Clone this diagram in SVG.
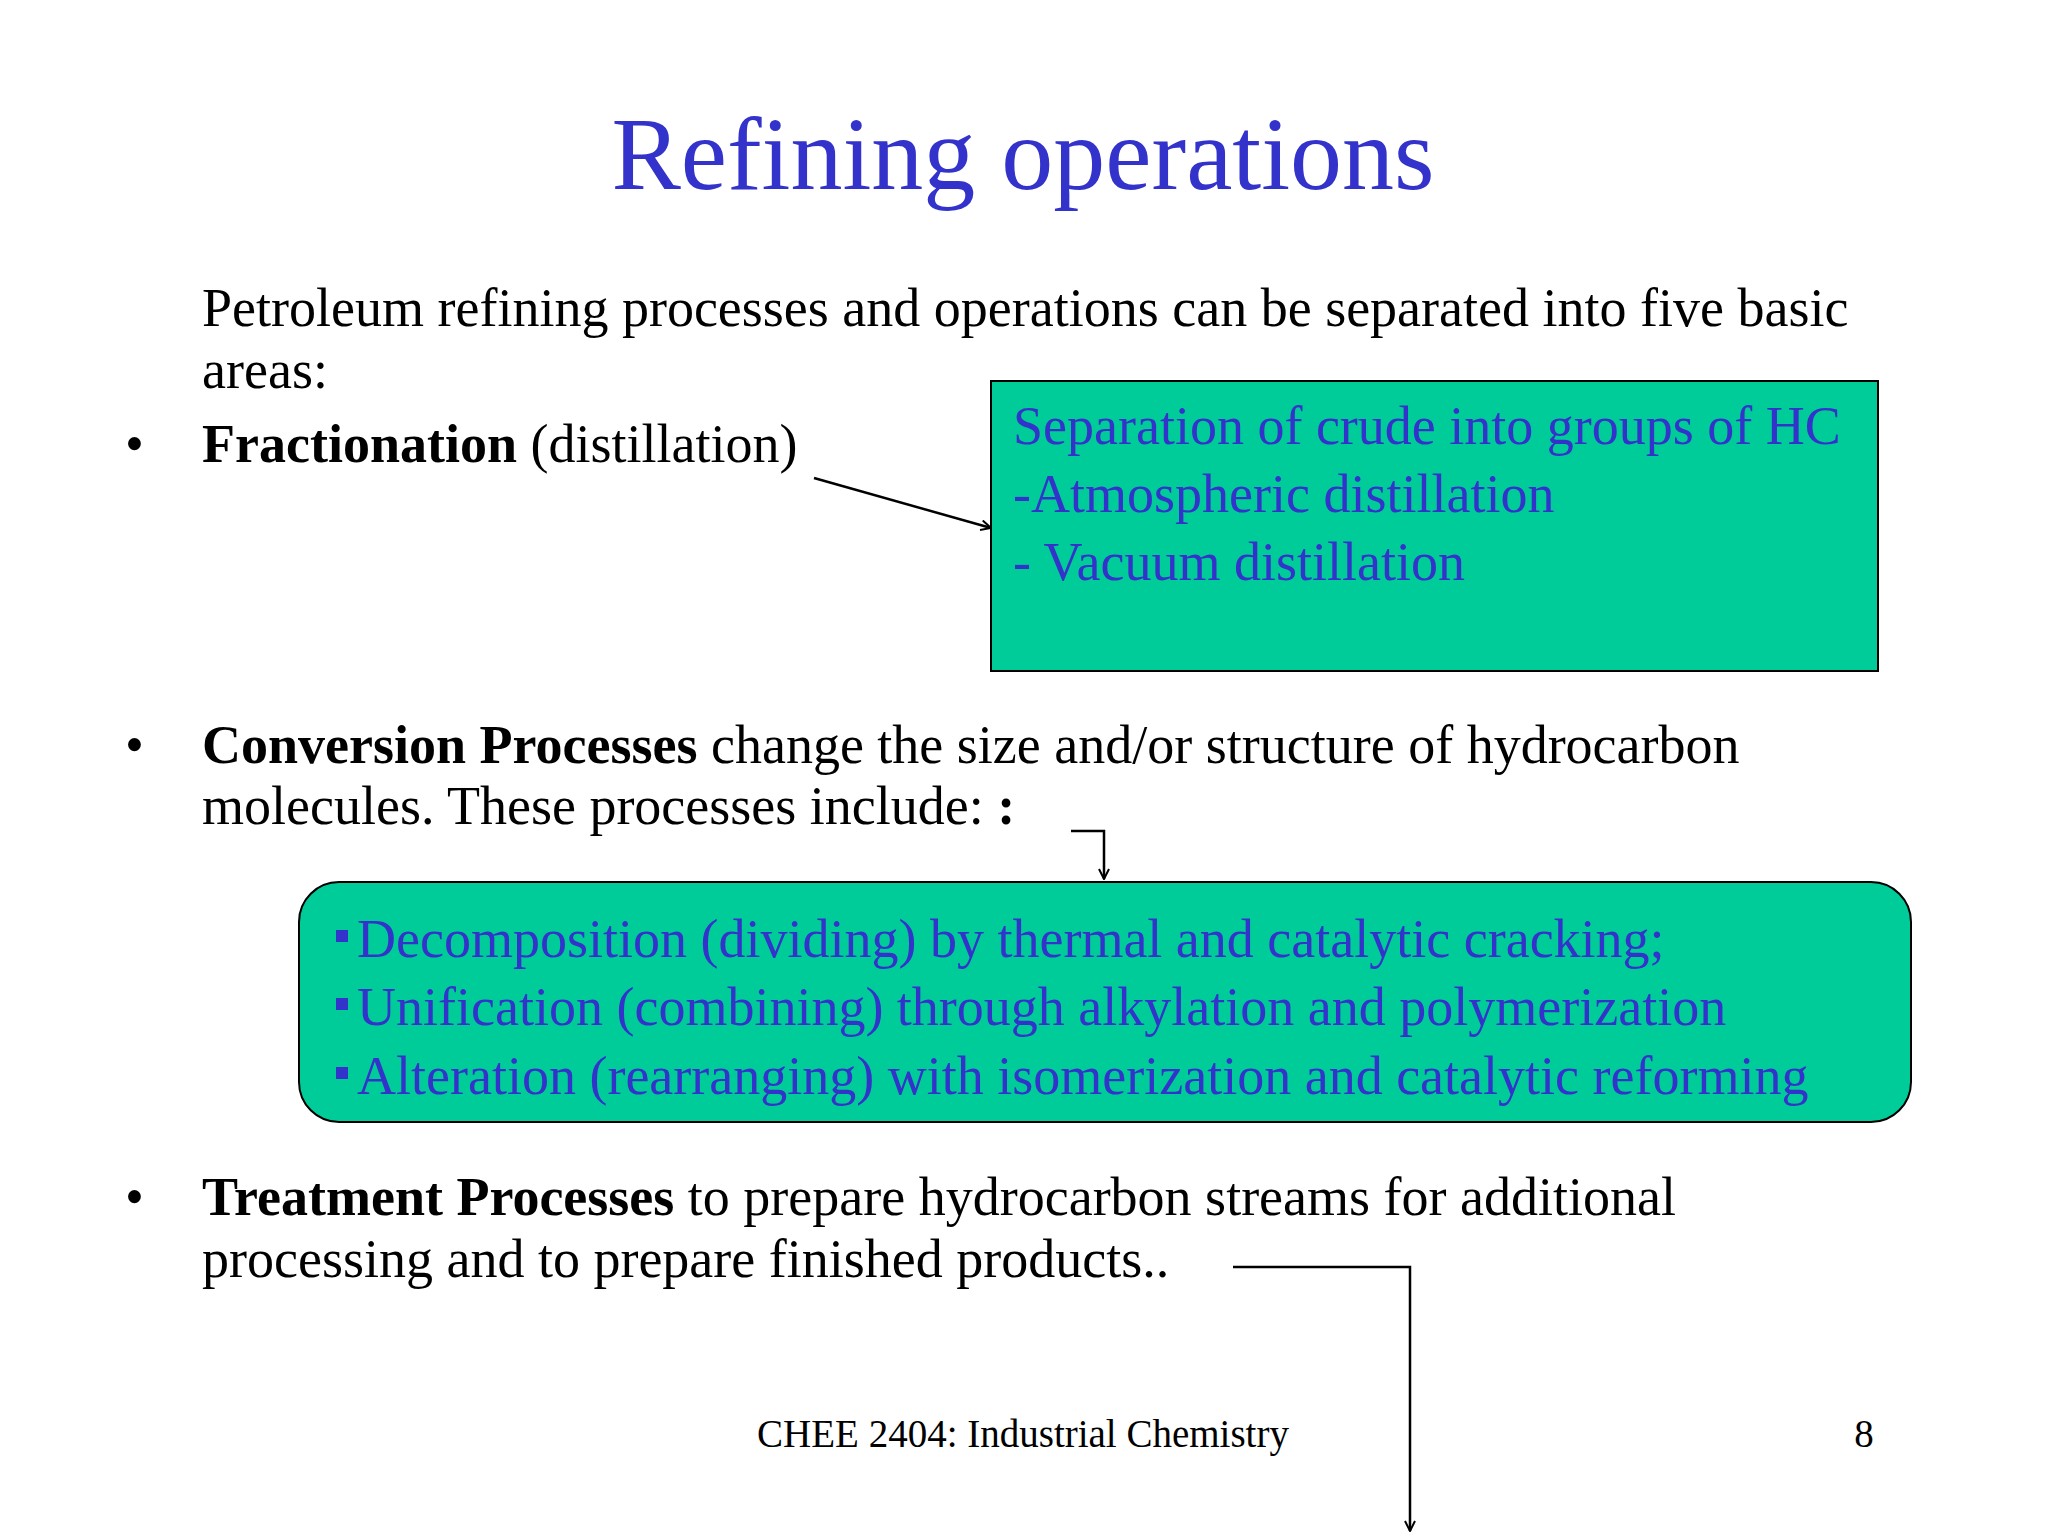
<svg xmlns="http://www.w3.org/2000/svg" width="2048" height="1536" viewBox="0 0 2048 1536">
<defs>
<style>
.t{font-family:"Liberation Serif","Times New Roman",serif;font-size:54px;fill:#000}
.b{font-family:"Liberation Serif","Times New Roman",serif;font-size:54px;fill:#3333CC}
.box{fill:#00CC99;stroke:#000;stroke-width:2}
.c{fill:none;stroke:#000;stroke-width:2.5}
</style>
<marker id="ah" viewBox="0 0 12 12" refX="11" refY="6" markerWidth="12" markerHeight="12" markerUnits="userSpaceOnUse" orient="auto"><path d="M1,1 L11,6 L1,11" fill="none" stroke="#000" stroke-width="2"/></marker>
</defs>
<rect width="2048" height="1536" fill="#fff"/>
<text x="1023" y="189" text-anchor="middle" font-family="Liberation Serif, serif" font-size="104" fill="#3333CC">Refining operations</text>
<text class="t" x="202" y="326">Petroleum refining processes and operations can be separated into five basic</text>
<text class="t" x="202" y="388">areas:</text>
<text class="t" x="125" y="462">•</text>
<text class="t" x="202" y="462"><tspan font-weight="bold">Fractionation</tspan> (distillation)</text>
<g id="box1"><rect class="box" x="991" y="381" width="887" height="290"/>
<text class="b" x="1013" y="444">Separation of crude into groups of HC</text>
<text class="b" x="1013" y="512">-Atmospheric distillation</text>
<text class="b" x="1013" y="580">- Vacuum distillation</text></g>
<text class="t" x="125" y="763">•</text>
<text class="t" x="202" y="763"><tspan font-weight="bold">Conversion Processes</tspan> change the size and/or structure of hydrocarbon</text>
<text class="t" x="202" y="824">molecules. These processes include: <tspan font-weight="bold">:</tspan></text>
<g id="box2"><rect class="box" x="299" y="882" width="1612" height="240" rx="40"/>
<g fill="#3333CC"><rect x="336" y="930" width="12" height="12"/><rect x="336" y="998" width="12" height="12"/><rect x="336" y="1067" width="12" height="12"/></g>
<text class="b" x="357" y="957">Decomposition (dividing) by thermal and catalytic cracking;</text>
<text class="b" x="357" y="1025">Unification (combining) through alkylation and polymerization</text>
<text class="b" x="357" y="1094">Alteration (rearranging) with isomerization and catalytic reforming</text></g>
<text class="t" x="125" y="1215">•</text>
<text class="t" x="202" y="1215"><tspan font-weight="bold">Treatment Processes</tspan> to prepare hydrocarbon streams for additional</text>
<text class="t" x="202" y="1277">processing and to prepare finished products..</text>
<text x="1023" y="1447" text-anchor="middle" font-family="Liberation Serif, serif" font-size="39">CHEE 2404: Industrial Chemistry</text>
<text x="1864" y="1447" text-anchor="middle" font-family="Liberation Serif, serif" font-size="39">8</text>
<g id="connectors">
<path class="c" d="M814,478 L991,528" marker-end="url(#ah)"/>
<path class="c" d="M1071,831 L1104,831 L1104,879" marker-end="url(#ah)"/>
<path class="c" d="M1233,1267 L1410,1267 L1410,1531" marker-end="url(#ah)"/>
</g>
</svg>
